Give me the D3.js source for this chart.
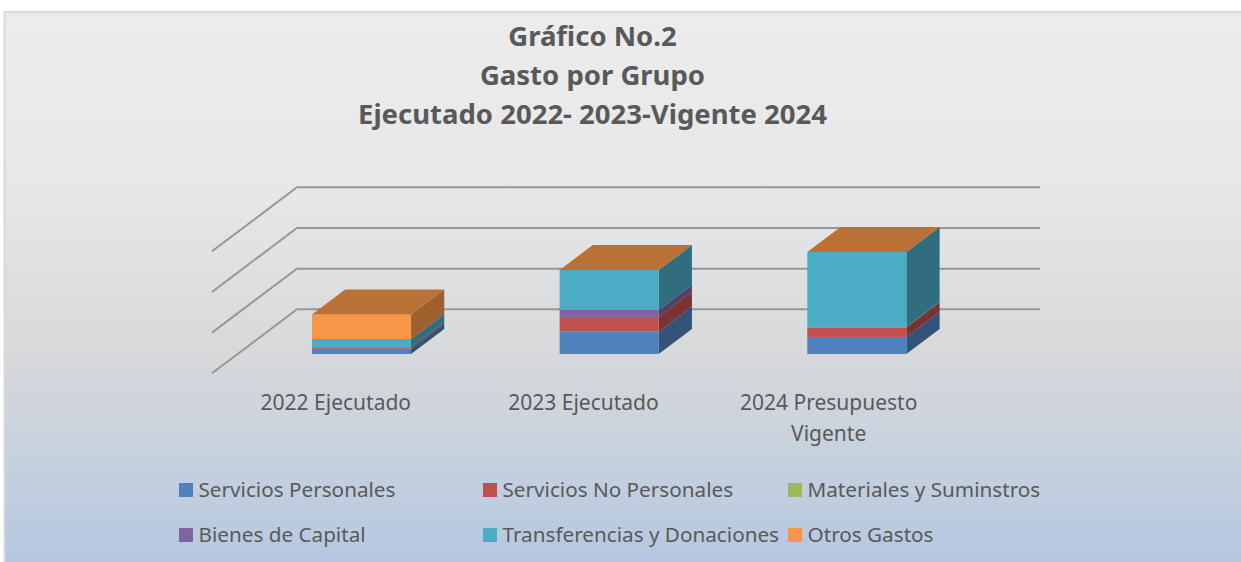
<!DOCTYPE html>
<html>
<head>
<meta charset="utf-8">
<script src="https://cdn.jsdelivr.net/npm/d3@7"></script>
<style>
html, body { margin: 0; padding: 0; background: #fff; overflow: hidden; }
svg { display: block; }
text { font-family: "Noto Sans", sans-serif; fill: #595959; }
</style>
</head>
<body>
<div id="chart"></div>
<script>
const titleLines = ["Gráfico No.2", "Gasto por Grupo", "Ejecutado 2022- 2023-Vigente 2024"];

const categories = ["2022 Ejecutado", "2023 Ejecutado", "2024 Presupuesto Vigente"];
const seriesNames = ["Servicios Personales", "Servicios No Personales", "Materiales y Suminstros",
    "Bienes de Capital", "Transferencias y Donaciones", "Otros Gastos"];
const colors = ["#4f81bd", "#c0504d", "#9bbb59", "#8064a2", "#4bacc6", "#f79646"];

// unidades leidas a ojo, una linea de rejilla = 1000
const personales = [131, 549, 418];
const noPersonales = [35, 363, 237];
const materiales = [0, 0, 8];
const bienes = [0, 171, 0];
const transferencias = [202, 983, 1845];
const otros = [605, 0, 0];
const gridTicks = [0, 1000, 2000, 3000];

const width = 1241;
const height = 562;

const plot = { left: 212, right: 955, floor: 373.3 };
// proyeccion oblicua: cuanto se desplaza el fondo respecto al frente
const depth = { dx: 85, dy: -64, barFront: 0.302, barBack: 0.693 };

const svg = d3.select("#chart").append("svg")
    .attr("width", width)
    .attr("height", height);

const grad = svg.append("defs").append("linearGradient")
    .attr("id", "bg")
    .attr("x1", 0).attr("y1", 0).attr("x2", 0).attr("y2", 1);
[[0, "#ececec"], [0.3, "#e8e8e8"], [0.62, "#d6d8da"], [0.8, "#c6d1de"], [1, "#b3c6e0"]].forEach(s => {
    grad.append("stop").attr("offset", s[0]).attr("stop-color", s[1]);
});

// el marco se sale por la derecha y por abajo
svg.append("rect")
    .attr("x", 4.5).attr("y", 12)
    .attr("width", 1250).attr("height", 560)
    .attr("fill", "url(#bg)")
    .attr("stroke", "#d9d9d9")
    .attr("stroke-width", 2);

svg.selectAll(".title")
    .data(titleLines)
    .join("text")
    .attr("class", "title")
    .attr("x", 592.5)
    .attr("y", (d, i) => 46 + i * 39)
    .attr("text-anchor", "middle")
    .attr("font-size", "27.5px")
    .attr("font-weight", 700)
    .text(d => d);

const x = d3.scaleBand()
    .domain(categories)
    .range([plot.left, plot.right])
    .paddingInner(0.6)
    .paddingOuter(0.3);

const y = d3.scaleLinear()
    .domain([0, 3000])
    .range([plot.floor, plot.floor - 122]);

// rejilla: pared lateral + pared del fondo
svg.selectAll(".grid")
    .data(gridTicks)
    .join("path")
    .attr("class", "grid")
    .attr("fill", "none")
    .attr("stroke", "#979797")
    .attr("stroke-width", 2)
    .attr("d", d => d3.line()([
        [plot.left, y(d)],
        [plot.left + depth.dx, y(d) + depth.dy],
        [plot.right + depth.dx, y(d) + depth.dy]
    ]));

const rows = categories.map((c, i) => ({
    category: c,
    [seriesNames[0]]: personales[i],
    [seriesNames[1]]: noPersonales[i],
    [seriesNames[2]]: materiales[i],
    [seriesNames[3]]: bienes[i],
    [seriesNames[4]]: transferencias[i],
    [seriesNames[5]]: otros[i]
}));

const stacked = d3.stack().keys(seriesNames)(rows);

function shade(color, k) {
    const c = d3.rgb(color);
    return d3.rgb(c.r * k, c.g * k, c.b * k).formatHex();
}

const fx = d => x(d.data.category) + depth.dx * depth.barFront;
const fy = v => y(v) + depth.dy * depth.barFront;
const ox = depth.dx * (depth.barBack - depth.barFront);
const oy = depth.dy * (depth.barBack - depth.barFront);
const line = d3.line();

const layer = svg.selectAll(".serie")
    .data(stacked)
    .join("g")
    .attr("class", "serie");

layer.each(function (s, i) {
    const g = d3.select(this);
    const col = colors[i];
    const pts = s.filter(d => d[1] > d[0] || i === seriesNames.length - 1);

    // cara lateral
    g.selectAll(".side").data(pts).join("path")
        .attr("class", "side")
        .attr("fill", shade(col, 0.64))
        .attr("d", d => {
            const xr = fx(d) + x.bandwidth();
            return line([[xr, fy(d[0])], [xr + ox, fy(d[0]) + oy], [xr + ox, fy(d[1]) + oy], [xr, fy(d[1])]]) + "Z";
        });

    // cara frontal
    g.selectAll(".front").data(pts).join("rect")
        .attr("class", "front")
        .attr("fill", col)
        .attr("x", fx)
        .attr("y", d => fy(d[1]))
        .attr("width", x.bandwidth())
        .attr("height", d => fy(d[0]) - fy(d[1]));

    // tapa, solo la ultima serie queda a la vista
    if (i === seriesNames.length - 1) {
        g.selectAll(".top").data(pts).join("path")
            .attr("class", "top")
            .attr("fill", shade(col, 0.75))
            .attr("d", d => {
                const xl = fx(d), xr = xl + x.bandwidth(), t = fy(d[1]);
                return line([[xl, t], [xl + ox, t + oy], [xr + ox, t + oy], [xr, t]]) + "Z";
            });
    }
});

// etiquetas de categoria
const catLines = [["2022 Ejecutado"], ["2023 Ejecutado"], ["2024 Presupuesto", "Vigente"]];
const catShift = [0, 0, -2.5];
svg.selectAll(".cat")
    .data(categories)
    .join("text")
    .attr("class", "cat")
    .attr("text-anchor", "middle")
    .attr("font-size", "21px")
    .each(function (d, i) {
        d3.select(this).selectAll("tspan")
            .data(catLines[i])
            .join("tspan")
            .attr("x", x(d) + x.bandwidth() / 2 + catShift[i])
            .attr("y", (t, j) => 410 + j * 31)
            .text(t => t);
    });

// leyenda en dos filas
const legendX = [179, 483, 788];
const legendY = [490, 535];
const legend = svg.selectAll(".legend")
    .data(seriesNames)
    .join("g")
    .attr("class", "legend")
    .attr("transform", (d, i) => `translate(${legendX[i % 3]},${legendY[Math.floor(i / 3)]})`);

legend.append("rect")
    .attr("x", 0).attr("y", -7)
    .attr("width", 14).attr("height", 14)
    .attr("fill", (d, i) => colors[i]);

legend.append("text")
    .attr("x", 19.5)
    .attr("y", 7)
    .attr("font-size", "20.7px")
    .text(d => d);
</script>
</body>
</html>
